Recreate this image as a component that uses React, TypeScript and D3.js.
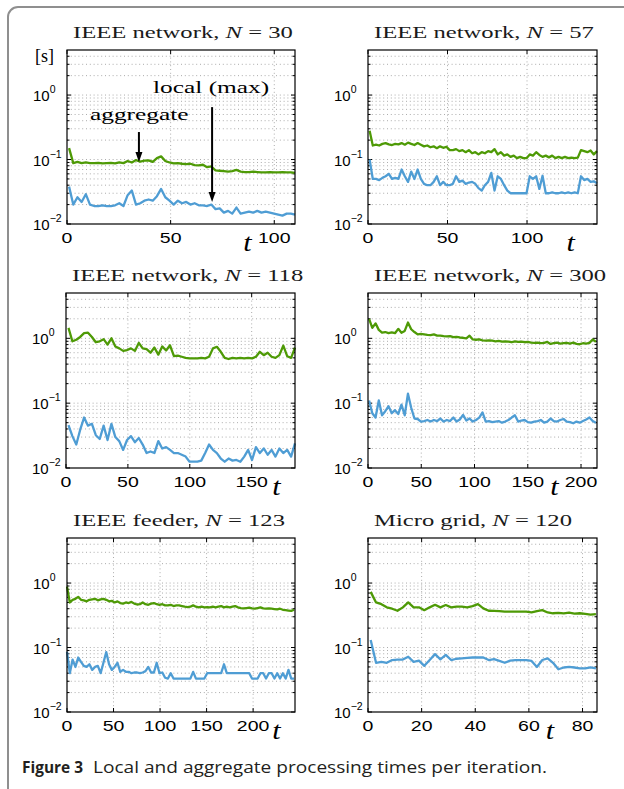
import React from 'react';
import * as d3 from 'd3';

const W = 624;
const H = 789;

// ---------- data (seconds per iteration) ----------
const p1Agg = [0.15,0.088,0.092,0.088,0.09,0.088,0.088,0.089,0.087,0.088,0.089,0.087,0.09,0.088,0.095,0.09,0.098,0.093,0.096,0.097,0.092,0.105,0.112,0.095,0.09,0.087,0.088,0.086,0.085,0.086,0.082,0.081,0.083,0.076,0.078,0.068,0.067,0.066,0.065,0.066,0.069,0.065,0.064,0.064,0.065,0.064,0.063,0.063,0.064,0.063,0.063,0.064,0.063,0.063,0.062];
const p1Loc = [0.038,0.02,0.026,0.022,0.029,0.02,0.019,0.019,0.0195,0.019,0.019,0.0195,0.021,0.019,0.028,0.033,0.02,0.021,0.023,0.024,0.023,0.027,0.035,0.026,0.023,0.02,0.023,0.021,0.022,0.02,0.021,0.0195,0.0195,0.019,0.02,0.017,0.0175,0.015,0.016,0.0145,0.018,0.0145,0.015,0.0155,0.015,0.016,0.015,0.0155,0.015,0.0145,0.014,0.0135,0.0145,0.0145,0.014];

const p2Agg = [0.28,0.165,0.17,0.165,0.175,0.18,0.172,0.168,0.175,0.172,0.18,0.17,0.183,0.175,0.168,0.18,0.17,0.16,0.165,0.155,0.16,0.15,0.16,0.152,0.158,0.14,0.14,0.145,0.135,0.14,0.13,0.14,0.125,0.13,0.12,0.13,0.125,0.135,0.13,0.145,0.12,0.13,0.115,0.12,0.11,0.115,0.105,0.11,0.105,0.105,0.12,0.115,0.13,0.118,0.11,0.115,0.108,0.115,0.105,0.11,0.105,0.11,0.105,0.107,0.105,0.107,0.14,0.135,0.13,0.138,0.12,0.135];
const p2Loc = [0.1,0.05,0.05,0.048,0.052,0.055,0.06,0.05,0.052,0.05,0.07,0.055,0.045,0.065,0.05,0.07,0.05,0.042,0.04,0.04,0.045,0.055,0.04,0.045,0.04,0.04,0.042,0.055,0.045,0.047,0.042,0.044,0.045,0.042,0.036,0.033,0.04,0.045,0.062,0.033,0.055,0.05,0.04,0.033,0.03,0.03,0.03,0.03,0.03,0.03,0.055,0.05,0.055,0.035,0.056,0.03,0.03,0.031,0.03,0.03,0.031,0.03,0.031,0.03,0.031,0.03,0.055,0.048,0.05,0.045,0.046,0.043];

const p3Agg = [1.45,0.9,0.95,1.05,1.2,1.22,1.05,0.87,0.9,0.97,0.8,1.0,0.75,0.7,0.64,0.66,0.7,0.64,0.85,0.7,0.68,0.6,0.72,0.56,0.75,0.65,0.78,0.53,0.54,0.52,0.5,0.49,0.49,0.49,0.5,0.49,0.52,0.7,0.74,0.62,0.5,0.48,0.5,0.49,0.5,0.49,0.5,0.49,0.52,0.62,0.55,0.6,0.52,0.5,0.55,0.77,0.53,0.5,0.72];
const p3Loc = [0.046,0.031,0.023,0.039,0.06,0.045,0.048,0.032,0.028,0.045,0.027,0.048,0.03,0.026,0.019,0.027,0.031,0.025,0.029,0.023,0.017,0.018,0.017,0.026,0.02,0.021,0.019,0.017,0.017,0.016,0.015,0.0125,0.0125,0.0125,0.013,0.017,0.023,0.019,0.017,0.014,0.0125,0.014,0.013,0.0133,0.0125,0.015,0.019,0.0133,0.021,0.017,0.02,0.016,0.019,0.015,0.02,0.017,0.019,0.015,0.024];

const p4Agg = [2.0,1.45,1.7,1.35,1.22,1.25,1.2,1.23,1.2,1.4,1.22,1.3,1.75,1.38,1.25,1.15,1.17,1.15,1.13,1.12,1.15,1.1,1.1,1.08,1.07,1.08,1.04,1.05,1.03,1.02,1.0,1.1,0.96,0.95,0.96,0.93,0.92,0.93,0.92,0.9,0.91,0.89,0.9,0.89,0.87,0.9,0.88,0.89,0.87,0.88,0.86,0.85,0.86,0.84,0.85,0.88,0.82,0.84,0.86,0.83,0.84,0.85,0.83,0.86,0.82,0.81,0.84,0.83,0.85,0.96,0.88];
const p4Loc = [0.11,0.07,0.06,0.11,0.065,0.075,0.09,0.07,0.078,0.068,0.095,0.065,0.14,0.085,0.058,0.057,0.052,0.053,0.055,0.052,0.055,0.053,0.058,0.052,0.055,0.053,0.06,0.052,0.056,0.066,0.054,0.058,0.052,0.055,0.06,0.072,0.052,0.053,0.051,0.052,0.053,0.05,0.052,0.055,0.06,0.065,0.052,0.054,0.055,0.051,0.05,0.052,0.053,0.055,0.05,0.052,0.058,0.053,0.052,0.055,0.057,0.052,0.051,0.049,0.052,0.05,0.053,0.056,0.06,0.053,0.05];

const p5Agg = [0.88,0.5,0.55,0.57,0.61,0.55,0.54,0.52,0.55,0.56,0.57,0.54,0.56,0.57,0.55,0.52,0.53,0.5,0.52,0.49,0.48,0.5,0.49,0.51,0.48,0.465,0.47,0.5,0.47,0.46,0.48,0.49,0.47,0.46,0.47,0.45,0.45,0.46,0.44,0.45,0.45,0.44,0.43,0.425,0.43,0.45,0.43,0.42,0.43,0.42,0.425,0.42,0.43,0.42,0.43,0.44,0.42,0.43,0.42,0.43,0.44,0.42,0.41,0.405,0.41,0.415,0.405,0.4,0.41,0.42,0.405,0.4,0.405,0.4,0.395,0.39,0.4,0.385,0.38,0.375,0.37,0.385];
const p5Loc = [0.086,0.04,0.065,0.05,0.07,0.06,0.052,0.05,0.055,0.045,0.05,0.052,0.04,0.058,0.085,0.055,0.045,0.05,0.058,0.042,0.045,0.042,0.042,0.04,0.041,0.041,0.04,0.041,0.043,0.05,0.041,0.041,0.058,0.04,0.041,0.034,0.033,0.04,0.033,0.033,0.033,0.033,0.033,0.033,0.033,0.042,0.033,0.033,0.033,0.033,0.04,0.04,0.04,0.04,0.04,0.04,0.055,0.04,0.04,0.04,0.04,0.04,0.04,0.04,0.04,0.04,0.033,0.033,0.033,0.04,0.04,0.033,0.04,0.04,0.033,0.04,0.033,0.04,0.033,0.045,0.033,0.033];

const p6Agg = [0.73,0.5,0.47,0.42,0.4,0.372,0.42,0.5,0.42,0.42,0.38,0.42,0.46,0.42,0.456,0.42,0.43,0.43,0.42,0.44,0.47,0.405,0.372,0.37,0.368,0.36,0.36,0.36,0.36,0.36,0.35,0.368,0.38,0.35,0.34,0.345,0.338,0.347,0.335,0.34,0.333,0.325,0.33];
const p6Loc = [0.131,0.058,0.06,0.058,0.064,0.065,0.065,0.072,0.06,0.0625,0.052,0.064,0.079,0.0656,0.077,0.064,0.067,0.068,0.069,0.07,0.07,0.07,0.064,0.066,0.062,0.058,0.0625,0.064,0.064,0.064,0.062,0.05,0.064,0.068,0.058,0.046,0.049,0.05,0.049,0.0476,0.0476,0.0493,0.0476];

const titles = ['IEEE network, ', 'IEEE network, ', 'IEEE network, ', 'IEEE network, ', 'IEEE feeder, ', 'Micro grid, '];
const sizesN = ['30', '57', '118', '300', '123', '120'];
const xMaxes = [110, 144, 185, 215, 245, 85.4];
const tStarts = [1, 1, 2, 1, 0, 1];
const tEnds = [110, 144, 185, 214, 244, 85];
const xTickSets = [[0, 50, 100], [0, 50, 100], [0, 50, 100, 150], [0, 50, 100, 150, 200], [0, 50, 100, 150, 200], [0, 20, 40, 60, 80]];
const tLabelAt = [87, 127.5, 170, 175, 225, 67.8];
const aggSeries = [p1Agg, p2Agg, p3Agg, p4Agg, p5Agg, p6Agg];
const locSeries = [p1Loc, p2Loc, p3Loc, p4Loc, p5Loc, p6Loc];
const yDomain: [number, number] = [0.01, 5];
const yMajor = [0.01, 0.1, 1];
const yMajorExp = ['-2', '-1', '0'];

// annotation (panel 1), in data units
const annAggText = { t: 11.1, v: 0.417, label: 'aggregate' };
const annAggArrow = { t: 34.7, from: 0.267, to: 0.0914 };
const annLocText = { t: 41.5, v: 1.07, label: 'local (max)' };
const annLocArrow = { t: 70, from: 0.65, to: 0.0219 };

// ---------- styles / layout ----------
const GREEN = '#4e9a06';
const BLUE = '#4f9dd4';
const GRID = '#ababab';
const SERIF = '"Liberation Serif", "Times New Roman", serif';
const SANS = '"Liberation Sans", Arial, sans-serif';
const boxes = [
  { x0: 67, x1: 295, y0: 50, y1: 224 },
  { x0: 368, x1: 597, y0: 50, y1: 224 },
  { x0: 66, x1: 295, y0: 293, y1: 468 },
  { x0: 368, x1: 597, y0: 293, y1: 468 },
  { x0: 67, x1: 295, y0: 538, y1: 712 },
  { x0: 368, x1: 597, y0: 538, y1: 712 },
];
const SX = 1.3; // horizontal stretch of the embedded figure
const SERIF_SX = 1.45;

function SText({ x, y, sx = 1, children, ...rest }: any) {
  return (
    <text transform={`translate(${x},${y}) scale(${sx},1)`} {...rest}>
      {children}
    </text>
  );
}

function Arrow({ x, y1, y2 }: { x: number; y1: number; y2: number }) {
  const head = 10;
  return (
    <g>
      <line x1={x} x2={x} y1={y1} y2={y2 - head + 1} stroke="#000" strokeWidth={2} />
      <polygon points={`${x - 3.5},${y2 - head} ${x + 3.5},${y2 - head} ${x},${y2}`} fill="#000" />
    </g>
  );
}

function Panel({ i }: { i: number }) {
  const b = boxes[i];
  const x = d3.scaleLinear().domain([0, xMaxes[i]]).range([b.x0, b.x1]);
  const y = d3.scaleLog().domain(yDomain).range([b.y1, b.y0]);
  const toPts = (arr: number[]) =>
    arr.map((v, k) => [tStarts[i] + (k * (tEnds[i] - tStarts[i])) / (arr.length - 1), v] as [number, number]);
  const line = d3
    .line<[number, number]>()
    .x((d) => x(d[0]))
    .y((d) => y(d[1]));

  const minor: number[] = [];
  [-2, -1, 0].forEach((e) => {
    for (let k = 2; k <= 9; k++) {
      const v = k * Math.pow(10, e);
      if (v < yDomain[1]) minor.push(v);
    }
  });

  return (
    <g>
      {/* grid */}
      {minor.concat([0.1, 1]).map((v, k) => (
        <line key={'h' + k} x1={b.x0} x2={b.x1} y1={y(v)} y2={y(v)} stroke={GRID} strokeWidth={1} strokeDasharray="1,2.8" />
      ))}
      {xTickSets[i].filter((t) => t > 0).map((t, k) => (
        <line key={'v' + k} x1={x(t)} x2={x(t)} y1={b.y0} y2={b.y1} stroke={GRID} strokeWidth={1} strokeDasharray="1,2.8" />
      ))}
      {/* ticks */}
      {minor.map((v, k) => (
        <g key={'mt' + k}>
          <line x1={b.x0} x2={b.x0 + 2.5} y1={y(v)} y2={y(v)} stroke="#000" strokeWidth={1} />
          <line x1={b.x1} x2={b.x1 - 2.5} y1={y(v)} y2={y(v)} stroke="#000" strokeWidth={1} />
        </g>
      ))}
      {yMajor.map((v, k) => (
        <g key={'Mt' + k}>
          <line x1={b.x0} x2={b.x0 + 4} y1={y(v)} y2={y(v)} stroke="#000" strokeWidth={1} />
          <line x1={b.x1} x2={b.x1 - 4} y1={y(v)} y2={y(v)} stroke="#000" strokeWidth={1} />
        </g>
      ))}
      {xTickSets[i].map((t, k) => (
        <g key={'xt' + k}>
          <line x1={x(t)} x2={x(t)} y1={b.y1} y2={b.y1 - 4} stroke="#000" strokeWidth={1} />
          <line x1={x(t)} x2={x(t)} y1={b.y0} y2={b.y0 + 4} stroke="#000" strokeWidth={1} />
        </g>
      ))}
      {/* series */}
      <path d={line(toPts(aggSeries[i])) || ''} fill="none" stroke={GREEN} strokeWidth={2.3} strokeLinejoin="round" />
      <path d={line(toPts(locSeries[i])) || ''} fill="none" stroke={BLUE} strokeWidth={2.3} strokeLinejoin="round" />
      {/* box */}
      <rect x={b.x0} y={b.y0} width={b.x1 - b.x0} height={b.y1 - b.y0} fill="none" stroke="#000" strokeWidth={1.2} />
      {/* y labels */}
      {yMajor.map((v, k) => (
        <text key={'yl' + k} x={b.x0 - 34} y={y(v) + 6} fontFamily={SANS} fontSize={15} fill="#000">
          10
          <tspan fontSize={10.5} dy={-8}>
            {yMajorExp[k].replace('-', '\u2212')}
          </tspan>
        </text>
      ))}
      {/* x labels */}
      {xTickSets[i].map((t, k) => (
        <SText key={'xl' + k} x={x(t)} y={b.y1 + 19} sx={SX} fontFamily={SANS} fontSize={15} textAnchor="middle" fill="#000">
          {String(t)}
        </SText>
      ))}
      <SText x={x(tLabelAt[i])} y={b.y1 + 27} sx={1.2} fontFamily={SERIF} fontSize={25} fontStyle="italic" textAnchor="middle" fill="#000">
        t
      </SText>
      {/* title */}
      <SText x={b.x0 + 6} y={b.y0 - 12} sx={SERIF_SX} fontFamily={SERIF} fontSize={17} fill="#1a1a1a">
        {titles[i]}
        <tspan fontStyle="italic">N</tspan>
        {' = ' + sizesN[i]}
      </SText>
      {i === 0 && (
        <g>
          <text x={35} y={62} fontFamily={SERIF} fontSize={18} fill="#000">
            [s]
          </text>
          <SText x={x(annAggText.t)} y={y(annAggText.v)} sx={SERIF_SX} fontFamily={SERIF} fontSize={17.5} fill="#000">
            {annAggText.label}
          </SText>
          <SText x={x(annLocText.t)} y={y(annLocText.v)} sx={SERIF_SX} fontFamily={SERIF} fontSize={17.5} fill="#000">
            {annLocText.label}
          </SText>
          <Arrow x={x(annAggArrow.t)} y1={y(annAggArrow.from)} y2={y(annAggArrow.to)} />
          <Arrow x={x(annLocArrow.t)} y1={y(annLocArrow.from)} y2={y(annLocArrow.to)} />
        </g>
      )}
    </g>
  );
}

export default function App() {
  return (
    <svg width={W} height={H} viewBox={`0 0 ${W} ${H}`} style={{ position: 'absolute', left: 0, top: 0, background: '#fff' }}>
      <rect x={0} y={0} width={W} height={H} fill="#fff" />
      <rect x={8} y={7} width={720} height={900} rx={10} ry={10} fill="none" stroke="#8f8f8f" strokeWidth={2} />
      {boxes.map((_, i) => (
        <Panel key={i} i={i} />
      ))}
      <text x={22} y={773} fontFamily='"Open Sans", "Noto Sans", sans-serif' fontSize={16.5} fontWeight="bold" fill="#231f20" textLength={61} lengthAdjust="spacingAndGlyphs">
        Figure 3
      </text>
      <text x={93} y={773} fontFamily='"Open Sans", "Noto Sans", sans-serif' fontSize={16.5} fill="#231f20" textLength={454} lengthAdjust="spacingAndGlyphs">
        Local and aggregate processing times per iteration.
      </text>
    </svg>
  );
}
